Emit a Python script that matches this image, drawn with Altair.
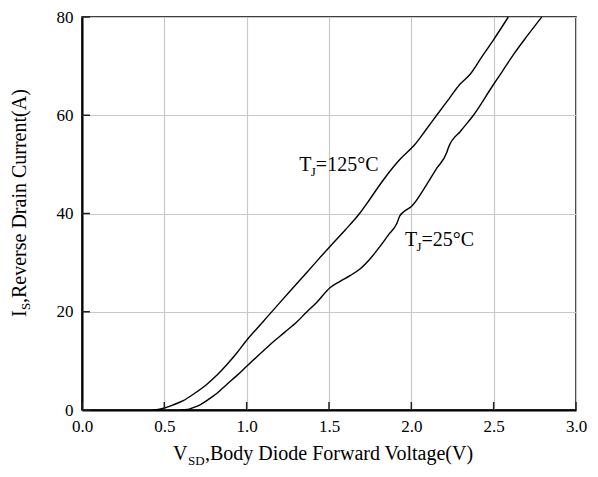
import altair as alt
import pandas as pd

# ---- data ----
v_125 = [0.43, 0.47, 0.50, 0.55, 0.615, 0.68, 0.757, 0.82, 0.879, 0.94, 1.00, 1.06, 1.121,
         1.20, 1.32, 1.41, 1.506, 1.60, 1.688, 1.75, 1.81, 1.87, 1.93, 2.02, 2.09, 2.154,
         2.23, 2.295, 2.356, 2.43, 2.498, 2.589]
i_125 = [0.0, 0.15, 0.4, 1.0, 1.9, 3.3, 5.2, 7.1, 9.2, 11.6, 14.2, 16.5, 18.8,
         21.8, 26.3, 29.7, 33.3, 36.7, 40.1, 43.0, 45.9, 48.6, 51.0, 54.0, 57.1, 60.0,
         63.4, 66.3, 68.3, 72.0, 75.3, 80.0]

v_25 = [0.60, 0.64, 0.676, 0.72, 0.757, 0.82, 0.879, 0.94, 1.00, 1.08, 1.162, 1.23, 1.304,
        1.36, 1.425, 1.506, 1.567, 1.63, 1.688, 1.75, 1.81, 1.86, 1.911, 1.93, 1.952, 2.002,
        2.093, 2.15, 2.215, 2.225, 2.30, 2.377, 2.488, 2.55, 2.619, 2.70, 2.792]
i_25 = [0.0, 0.1, 0.5, 1.1, 1.9, 3.4, 5.2, 7.0, 8.9, 11.4, 13.9, 15.8, 17.9,
        19.8, 21.9, 24.9, 26.2, 27.4, 28.7, 30.8, 33.3, 35.6, 37.9, 39.5, 40.3, 41.5,
        45.9, 49.0, 52.4, 53.4, 56.8, 60.0, 65.7, 68.8, 72.3, 76.0, 80.0]

series_names = ["TJ=125C", "TJ=25C"]

x_ticks = [0.0, 0.5, 1.0, 1.5, 2.0, 2.5, 3.0]
y_ticks = [0, 20, 40, 60, 80]

# annotation anchors (data coordinates) and texts
ann_v = [1.32, 1.961]
ann_i = [48.6, 33.3]
ann_rest = ["=125°C", "=25°C"]

x_title = ["V", "SD", ",Body Diode Forward Voltage(V)"]
y_title = ["I", "S", ",Reverse Drain Current(A)"]

# ---- build tables ----
df = pd.concat([
    pd.DataFrame({"V": v_125, "I": i_125, "series": series_names[0]}),
    pd.DataFrame({"V": v_25, "I": i_25, "series": series_names[1]}),
], ignore_index=True)
ann_df = pd.DataFrame({"V": ann_v, "I": ann_i, "rest": ann_rest})
xt_df = pd.DataFrame({"V": x_ticks})
yt_df = pd.DataFrame({"I": y_ticks})
one = pd.DataFrame({"k": [0]})

W, H = 494, 393
FONT = "Liberation Serif"

xscale = alt.Scale(domain=[0, 3], nice=False, zero=False)
yscale = alt.Scale(domain=[0, 80], nice=False)

xaxis = alt.Axis(values=x_ticks, format=".1f", title=None, labelPadding=8,
                 labelFont=FONT, labelFontSize=17, labelColor="black")
yaxis = alt.Axis(values=y_ticks, format="d", title=None, labelPadding=9,
                 labelFont=FONT, labelFontSize=17, labelColor="black")

lines = alt.Chart(df).mark_line(color="black", strokeWidth=1.4, interpolate="monotone").encode(
    x=alt.X("V:Q", scale=xscale, axis=xaxis),
    y=alt.Y("I:Q", scale=yscale, axis=yaxis),
    detail="series:N",
)

xticks = alt.Chart(xt_df).mark_rule(color="#222222", strokeWidth=1.5).encode(
    x=alt.X("V:Q", scale=xscale), y=alt.value(H), y2=alt.value(H - 8)
)
yticks = alt.Chart(yt_df).mark_rule(color="#222222", strokeWidth=1.5).encode(
    y=alt.Y("I:Q", scale=yscale), x=alt.value(0), x2=alt.value(8)
)

ann_T = alt.Chart(ann_df).mark_text(text="T", font=FONT, fontSize=20, align="left",
                                    baseline="alphabetic", color="black").encode(
    x=alt.X("V:Q", scale=xscale), y=alt.Y("I:Q", scale=yscale))
ann_J = alt.Chart(ann_df).mark_text(text="J", font=FONT, fontSize=13, align="left",
                                    baseline="alphabetic", color="black", dx=11.5, dy=5).encode(
    x=alt.X("V:Q", scale=xscale), y=alt.Y("I:Q", scale=yscale))
ann_R = alt.Chart(ann_df).mark_text(font=FONT, fontSize=20, align="left",
                                    baseline="alphabetic", color="black", dx=16.5).encode(
    x=alt.X("V:Q", scale=xscale), y=alt.Y("I:Q", scale=yscale), text="rest:N")

# axis titles with subscripts
TX, TY = 91, 443
xt0 = alt.Chart(one).mark_text(text=x_title[0], font=FONT, fontSize=20, align="left",
                               baseline="alphabetic", color="black").encode(
    x=alt.value(TX), y=alt.value(TY))
xt1 = alt.Chart(one).mark_text(text=x_title[1], font=FONT, fontSize=13, align="left",
                               baseline="alphabetic", color="black", dx=15, dy=4.5).encode(
    x=alt.value(TX), y=alt.value(TY))
xt2 = alt.Chart(one).mark_text(text=x_title[2], font=FONT, fontSize=20, align="left",
                               baseline="alphabetic", color="black", dx=32).encode(
    x=alt.value(TX), y=alt.value(TY))

YX, YY = -56, 300
yt0 = alt.Chart(one).mark_text(text=y_title[0], font=FONT, fontSize=20, align="left",
                               baseline="alphabetic", angle=270, color="black").encode(
    x=alt.value(YX), y=alt.value(YY))
yt1 = alt.Chart(one).mark_text(text=y_title[1], font=FONT, fontSize=13, align="left",
                               baseline="alphabetic", angle=270, color="black", dx=7, dy=4).encode(
    x=alt.value(YX), y=alt.value(YY))
yt2 = alt.Chart(one).mark_text(text=y_title[2], font=FONT, fontSize=20, align="left",
                               baseline="alphabetic", angle=270, color="black", dx=14).encode(
    x=alt.value(YX), y=alt.value(YY))

chart = alt.layer(
    lines, xticks, yticks, ann_T, ann_J, ann_R, xt0, xt1, xt2, yt0, yt1, yt2
).properties(
    width=W, height=H,
    autosize=alt.AutoSizeParams(type="none"),
    padding={"left": 74, "top": 9, "right": 12, "bottom": 59},
).configure_view(
    stroke="black", strokeWidth=1.5
).configure_axis(
    grid=True, gridColor="#c8c8c8", gridWidth=1.2,
    domainColor="black", domainWidth=2, ticks=False,
    labelFont=FONT, labelFontSize=17, labelColor="black",
    labelFlush=False, labelOverlap=False,
)

chart.save("out.html", embed_options={"renderer": "svg", "actions": False})
